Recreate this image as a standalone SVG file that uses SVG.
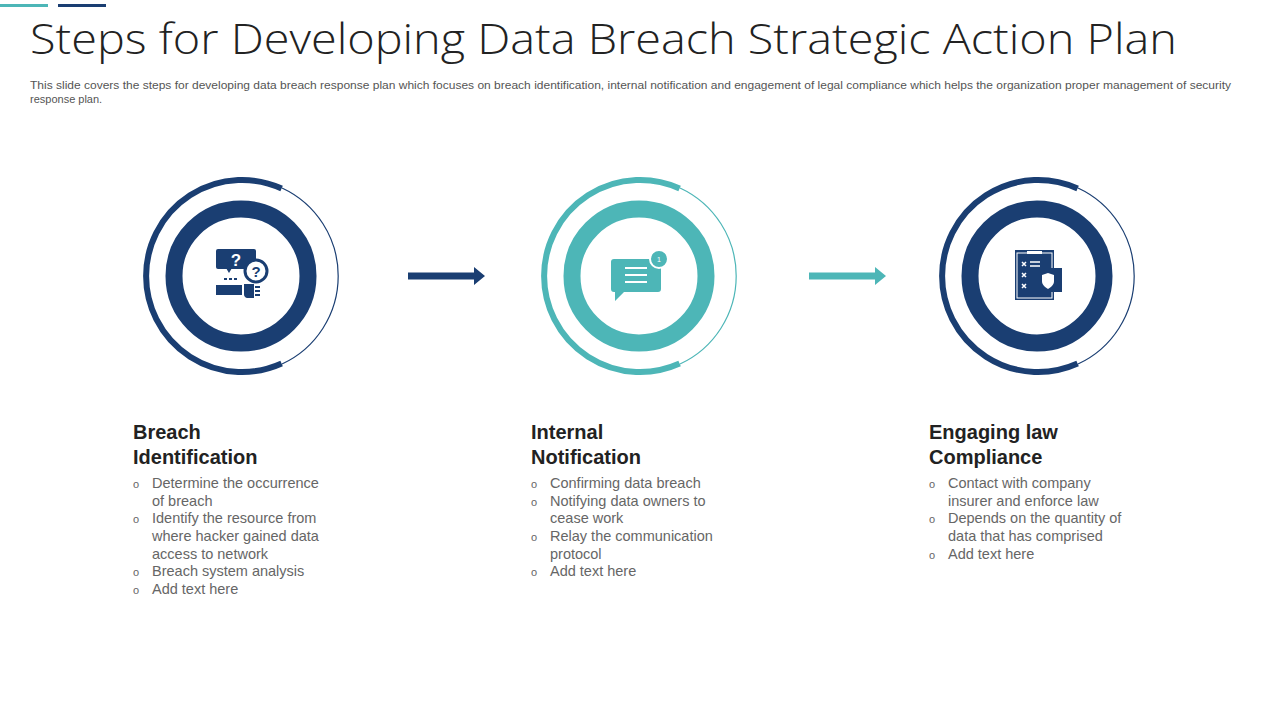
<svg xmlns="http://www.w3.org/2000/svg" width="1280" height="720" viewBox="0 0 1280 720">
<defs>
<style>
text{font-family:"Liberation Sans",Arial,sans-serif}
.h{font-size:20px;font-weight:bold;fill:#222}
.b{font-size:14.5px;fill:#666}
.bl{font-size:11px;fill:#666}
.thin{fill:none;stroke-width:1.2}
.thick{fill:none;stroke-width:6}
.inner{fill:none;stroke-width:17}
</style>
</defs>
<rect width="1280" height="720" fill="#fff"/>
<rect x="0" y="4" width="48" height="3" fill="#4db6b7"/>
<rect x="58" y="4" width="48" height="3" fill="#1a3e72"/>
<text x="30" y="54" font-size="43" fill="#222" textLength="1147" lengthAdjust="spacingAndGlyphs" style="font-family:'Open Sans','Liberation Sans',sans-serif;font-weight:300">Steps for Developing Data Breach Strategic Action Plan</text>
<text x="30" y="89" font-size="11" fill="#555" textLength="1201" lengthAdjust="spacingAndGlyphs">This slide covers the steps for developing data breach response plan which focuses on breach identification, internal notification and engagement of legal compliance which helps the organization proper management of security</text>
<text x="30" y="103" font-size="11" fill="#555">response plan.</text>

<g id="connectors">
<path d="M408 272.5 H474 V267 L485 276 L474 285 V279.5 H408 Z" fill="#1a3e72"/>
<path d="M809 272.5 H875 V267 L886 276 L875 285 V279.5 H809 Z" fill="#4db6b7"/>
</g>

<g id="node1" stroke="#1a3e72">
<path class="thin" d="M282 188 A97 97 0 0 1 282 364"/>
<path class="thick" d="M281.6 188.5 A96 96 0 1 0 281.6 363.5"/>
<circle class="inner" cx="241" cy="276" r="67"/>
<g stroke="none" fill="#1a3e72">
<rect x="216" y="249" width="40" height="20" rx="2"/>
<path d="M226 268 l3 5 l3 -5z"/>
<text x="236" y="266" font-size="17" font-weight="bold" fill="#fff" text-anchor="middle">?</text>
<circle cx="256" cy="271" r="11" fill="#fff" stroke="#1a3e72" stroke-width="3"/>
<text x="256" y="277" font-size="15" font-weight="bold" text-anchor="middle">?</text>
<rect x="224" y="278" width="3" height="2"/><rect x="229" y="278" width="3" height="2"/><rect x="234" y="278" width="3" height="2"/>
<rect x="216" y="285" width="26" height="10"/>
<path d="M244 284 h10 v14 h-7 a4 4 0 0 1 -3 -4z"/>
<rect x="255" y="286" width="5" height="2"/><rect x="255" y="290" width="5" height="2"/><rect x="255" y="294" width="5" height="2"/>
</g>
</g>

<g id="node2" stroke="#4db6b7">
<path class="thin" d="M680 188 A97 97 0 0 1 680 364"/>
<path class="thick" d="M679.6 188.5 A96 96 0 1 0 679.6 363.5"/>
<circle class="inner" cx="639" cy="276" r="67"/>
<g stroke="none">
<path d="M614 259 h44 a3 3 0 0 1 3 3 v27 a3 3 0 0 1 -3 3 h-34 l-9 9 v-9 h-1 a3 3 0 0 1 -3 -3 v-27 a3 3 0 0 1 3 -3z" fill="#4db6b7"/>
<rect x="625" y="267" width="22" height="2" fill="#fff"/>
<rect x="625" y="274" width="22" height="2" fill="#fff"/>
<rect x="625" y="281" width="22" height="2" fill="#fff"/>
<circle cx="659" cy="259" r="9" fill="#4db6b7" stroke="#fff" stroke-width="2"/>
<text x="659" y="262" font-size="7" fill="#fff" text-anchor="middle">1</text>
</g>
</g>

<g id="node3" stroke="#1a3e72">
<path class="thin" d="M1078 188 A97 97 0 0 1 1078 364"/>
<path class="thick" d="M1077.6 188.5 A96 96 0 1 0 1077.6 363.5"/>
<circle class="inner" cx="1037" cy="276" r="67"/>
<g stroke="none">
<rect x="1015" y="250" width="39" height="50" fill="#1a3e72"/>
<rect x="1017" y="253" width="35" height="45" fill="none" stroke="#fff" stroke-width="1"/>
<rect x="1027" y="251" width="15" height="3" fill="#fff"/>
<g stroke="#fff" stroke-width="1.5">
<path d="M1022 262 l4 4 M1026 262 l-4 4 M1022 273 l4 4 M1026 273 l-4 4 M1022 284 l4 4 M1026 284 l-4 4"/>
<path d="M1030 262 h10 M1030 266 h10"/>
</g>
<rect x="1038" y="268" width="24" height="24" fill="#1a3e72"/>
<path d="M1048 273 l6 2 v6 c0 4 -3 6 -6 8 c-3 -2 -6 -4 -6 -8 v-6z" fill="#fff"/>
</g>
</g>

<g id="text1">
<text class="h" x="133" y="439">Breach</text>
<text class="h" x="133" y="464">Identification</text>
<g class="b">
<text x="152" y="488">Determine the occurrence</text><text x="152" y="506">of breach</text>
<text x="152" y="523">Identify the resource from</text><text x="152" y="541">where hacker gained data</text><text x="152" y="559">access to network</text>
<text x="152" y="576">Breach system analysis</text>
<text x="152" y="594">Add text here</text>
</g>
<g class="bl"><text x="133" y="488">o</text><text x="133" y="523">o</text><text x="133" y="576">o</text><text x="133" y="594">o</text></g>
</g>

<g id="text2">
<text class="h" x="531" y="439">Internal</text>
<text class="h" x="531" y="464">Notification</text>
<g class="b">
<text x="550" y="488">Confirming data breach</text>
<text x="550" y="506">Notifying data owners to</text><text x="550" y="523">cease work</text>
<text x="550" y="541">Relay the communication</text><text x="550" y="559">protocol</text>
<text x="550" y="576">Add text here</text>
</g>
<g class="bl"><text x="531" y="488">o</text><text x="531" y="506">o</text><text x="531" y="541">o</text><text x="531" y="576">o</text></g>
</g>

<g id="text3">
<text class="h" x="929" y="439">Engaging law</text>
<text class="h" x="929" y="464">Compliance</text>
<g class="b">
<text x="948" y="488">Contact with company</text><text x="948" y="506">insurer and enforce law</text>
<text x="948" y="523">Depends on the quantity of</text><text x="948" y="541">data that has comprised</text>
<text x="948" y="559">Add text here</text>
</g>
<g class="bl"><text x="929" y="488">o</text><text x="929" y="523">o</text><text x="929" y="559">o</text></g>
</g>
</svg>
